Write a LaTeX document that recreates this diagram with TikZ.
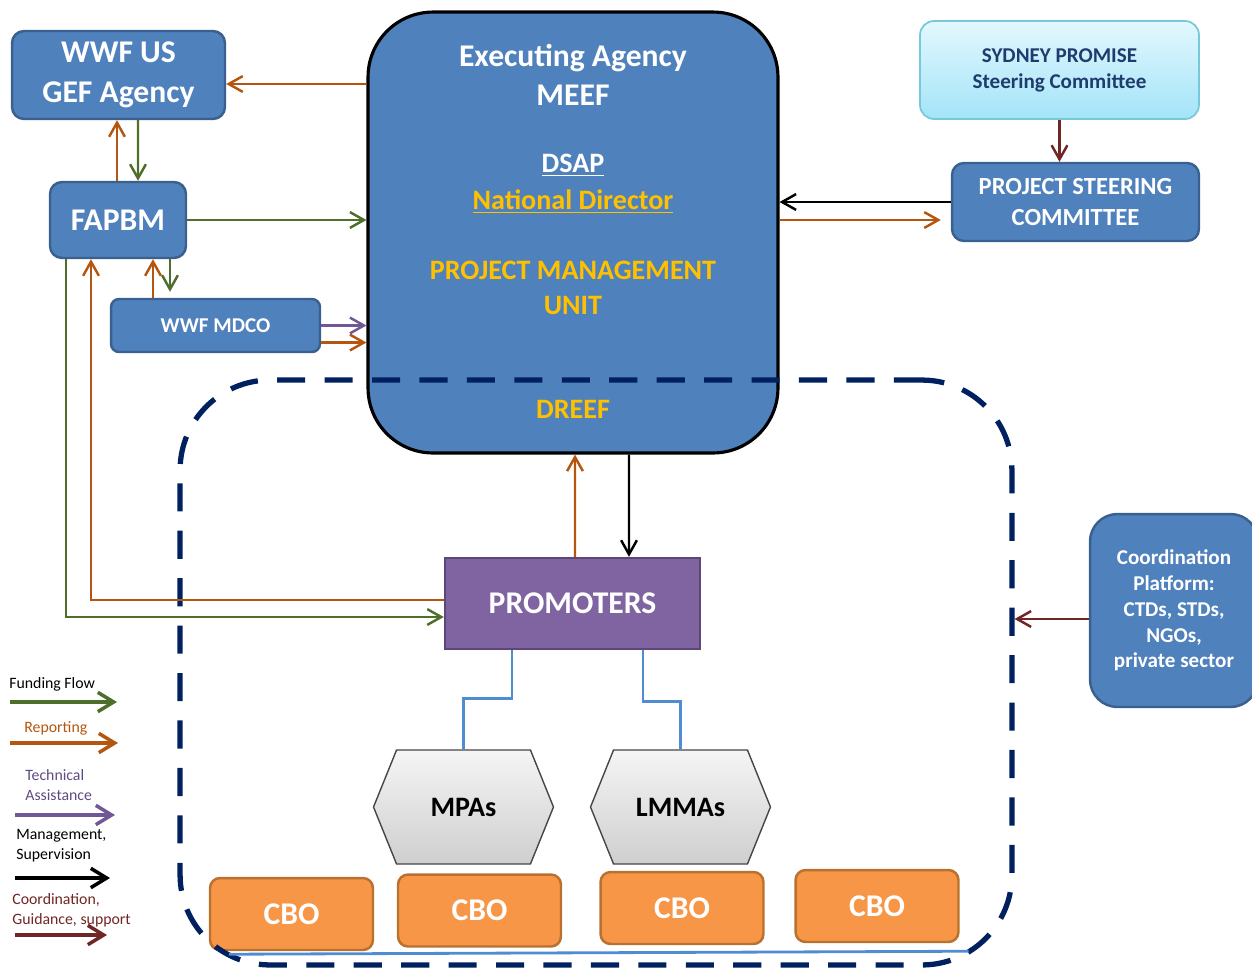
\documentclass[tikz,border=0pt]{standalone}
\usepackage{fontspec}
\setmainfont{Carlito}
\usepackage{xcolor}
\usetikzlibrary{positioning,calc,arrows.meta,shapes.symbols}

\definecolor{boxblue}{HTML}{4F81BD}
\definecolor{boxedge}{HTML}{3A6090}
\definecolor{pmuyellow}{HTML}{FFC000}
\definecolor{fundgreen}{RGB}{79,110,42}
\definecolor{reportbrown}{RGB}{180,86,16}
\definecolor{techpurple}{RGB}{112,88,150}
\definecolor{guidered}{RGB}{112,38,36}
\definecolor{zonenavy}{HTML}{002060}
\definecolor{promfill}{HTML}{8064A2}
\definecolor{promedge}{HTML}{5C4776}
\definecolor{cbofill}{HTML}{F79646}
\definecolor{cboedge}{HTML}{B8712F}
\definecolor{linkblue}{RGB}{80,140,210}
\definecolor{sydtop}{HTML}{E3F8FE}
\definecolor{sydbot}{HTML}{A3E4F8}
\definecolor{sydedge}{HTML}{78C8DC}
\definecolor{sydtext}{HTML}{1F3C6E}

\begin{document}
\begin{tikzpicture}[
    x=0.02cm, y=-0.02cm,
    bluebox/.style={rectangle, draw=boxedge, line width=1.4pt, fill=boxblue, rounded corners=0.24cm, text=white, align=center, font=\bfseries},
    bigtxt/.style={font=\fontsize{18}{22.5}\selectfont\bfseries},
    midtxt/.style={font=\fontsize{16}{20}\selectfont\bfseries},
    smalltxt/.style={font=\fontsize{12}{14.7}\selectfont\bfseries},
    legtxt/.style={font=\fontsize{9}{11.3}\selectfont, align=left, anchor=west, inner sep=0pt},
    arrowline/.style={line width=1.4pt, -{Straight Barb[length=8pt,width=9pt]}},
    fund/.style={arrowline, draw=fundgreen},
    report/.style={arrowline, draw=reportbrown},
    tech/.style={arrowline, draw=techpurple},
    manage/.style={arrowline, draw=black},
    guide/.style={arrowline, draw=guidered},
    legarrow/.style={line width=2pt, -{Straight Barb[length=9pt,width=11pt]}},
    link/.style={draw=linkblue, line width=1.6pt},
    cbo/.style={rectangle, draw=cboedge, line width=1.4pt, fill=cbofill, rounded corners=0.2cm, minimum width=3.26cm, minimum height=1.44cm, text=white, bigtxt},
    hexa/.style={signal, signal to=west and east, signal pointer angle=136, draw=gray!55!black, line width=0.8pt, top color=gray!8, bottom color=gray!38, minimum width=3.6cm, minimum height=2.28cm, inner sep=0pt, midtxt}
]
\useasboundingbox (0,0) rectangle (1252,968);

% Funding side
\node[bluebox, bigtxt, minimum width=4.26cm, minimum height=1.76cm] (wwfus) at (118.5,75) {WWF US\\GEF Agency};
\node[bluebox, bigtxt, minimum width=2.72cm, minimum height=1.52cm] (fapbm) at (118,220) {FAPBM};
\node[bluebox, smalltxt, rounded corners=0.16cm, minimum width=4.18cm, minimum height=1.06cm] (mdco) at (215.5,325.5) {WWF MDCO};

% Executing agency
\node[rectangle, draw=black, line width=1.8pt, fill=boxblue, rounded corners=1.3cm, minimum width=8.2cm, minimum height=8.82cm] (exec) at (573,232.5) {};
\node[bigtxt, text=white, align=center] (meef) at ($(exec.north)+(0,64.5)$) {Executing Agency\\MEEF};
\node[midtxt, text=white] (dsap) at ($(exec.north)+(0,155)$) {\underline{DSAP}};
\node[midtxt, text=pmuyellow] (natdir) at ($(exec.north)+(0,191)$) {\underline{National Director}};
\node[midtxt, text=pmuyellow, align=center] (pmu) at ($(exec.north)+(0,277.5)$) {PROJECT MANAGEMENT\\UNIT};
\node[midtxt, text=pmuyellow] (dreef) at ($(exec.north)+(0,399)$) {DREEF};

% Steering
\node[rectangle, draw=sydedge, line width=1pt, top color=sydtop, bottom color=sydbot, rounded corners=0.28cm, minimum width=5.58cm, minimum height=1.96cm, text=sydtext, smalltxt, align=center] (sydney) at (1059.5,70) {SYDNEY PROMISE\\Steering Committee};
\node[bluebox, font=\fontsize{14}{17.6}\selectfont\bfseries, minimum width=4.94cm, minimum height=1.56cm] (psc) at (1075.5,202) {PROJECT STEERING\\COMMITTEE};
\node[bluebox, smalltxt, rounded corners=0.55cm, minimum width=3.36cm, minimum height=3.86cm] (coord) at (1174,610.5) {Coordination\\Platform:\\CTDs, STDs,\\NGOs,\\private sector};

% Field level
\node[rectangle, draw=promedge, line width=1.4pt, fill=promfill, minimum width=5.1cm, minimum height=1.82cm, text=white, bigtxt] (prom) at (572.5,603.5) {PROMOTERS};
\node[hexa] (mpa) at (463.5,807) {MPAs};
\node[hexa] (lmma) at (680.5,807) {LMMAs};
\node[cbo] (cbo1) at (291.5,914) {CBO};
\node[cbo] (cbo2) at (479.5,910.5) {CBO};
\node[cbo] (cbo3) at (682,908) {CBO};
\node[cbo] (cbo4) at (877,906) {CBO};

% Intervention zone
\node[rectangle, draw=zonenavy, line width=3pt, dash pattern=on 16pt off 11pt, rounded corners=1.8cm, minimum width=16.64cm, minimum height=11.7cm] (zone) at (596,672.5) {};

% Arrows
\coordinate (toUS) at ($(wwfus.east)+(0,9)$);
\draw[report] (exec.west |- toUS) -- (toUS);
\draw[report] ($(fapbm.north)+(-1,0)$) -- ($(wwfus.south)+(-1.5,0)$);
\draw[fund] ($(wwfus.south)+(19.5,0)$) -- ($(fapbm.north)+(20,0)$);
\draw[fund] (fapbm.east) -- (exec.west |- fapbm.east);
\draw[report] ($(mdco.north)+(-62.5,0)$) -- ($(fapbm.south)+(35,0)$);
\draw[fund] ($(fapbm.south)+(52,0)$) -- ($(mdco.north)+(-45.5,-6)$);
\draw[tech] (mdco.east) -- (exec.west |- mdco.east);
\draw[report] ($(mdco.east)+(0,17)$) -- ($(exec.west |- mdco.east)+(0,17)$);
\draw[manage] (psc.west) -- (exec.east |- psc.west);
\draw[report] ($(exec.east |- psc.west)+(0,18)$) -- ($(psc.west)+(-10,18)$);
\draw[guide] (sydney.south) -- (sydney.south |- psc.north);
\draw[report] ($(prom.north)+(2.5,0)$) -- ($(exec.south)+(2,0)$);
\draw[manage] ($(exec.south)+(56,0)$) -- ($(prom.north)+(56.5,0)$);
\draw[report] ($(prom.west)+(0,-3.5)$) -| ($(fapbm.south)+(-27,0)$);
\draw[fund] ($(fapbm.south)+(-52,0)$) |- ($(prom.west)+(0,13.5)$);
\draw[guide] ($(coord.west)+(0,8.5)$) -- ($(zone.east |- coord.west)+(0,8.5)$);

% Promoters to sites
\draw[link] ($(prom.south)+(-60.5,0)$) -- ++(0,48) -| (mpa.north);
\draw[link] ($(prom.south)+(70.5,0)$) -- ++(0,51) -| (lmma.north);
\draw[link] ($(cbo1.south west)+(20,3)$) -- ($(cbo4.south east)+(9,8)$);

% Legend
\node[legtxt] (lfund) at (9,684) {Funding Flow};
\draw[legarrow, draw=fundgreen] ($(lfund.west)+(1,18)$) -- ++(107,0);
\node[legtxt, text=reportbrown] (lrep) at (24,728) {Reporting};
\draw[legarrow, draw=reportbrown] ($(lrep.west)+(-14,15)$) -- ++(108,0);
\node[legtxt, text=techpurple!85!black] (ltech) at (25,785) {Technical\\Assistance};
\draw[legarrow, draw=techpurple] ($(ltech.west)+(-10,30)$) -- ++(100,0);
\node[legtxt] (lman) at (16,846) {Management,\\Supervision};
\draw[legarrow, draw=black] ($(lman.west)+(-1,32)$) -- ++(95,0);
\node[legtxt, text=guidered] (lguide) at (12,910) {Coordination,\\Guidance, support};
\draw[legarrow, draw=guidered] ($(lguide.west)+(3,25)$) -- ++(92,0);

\end{tikzpicture}
\end{document}
